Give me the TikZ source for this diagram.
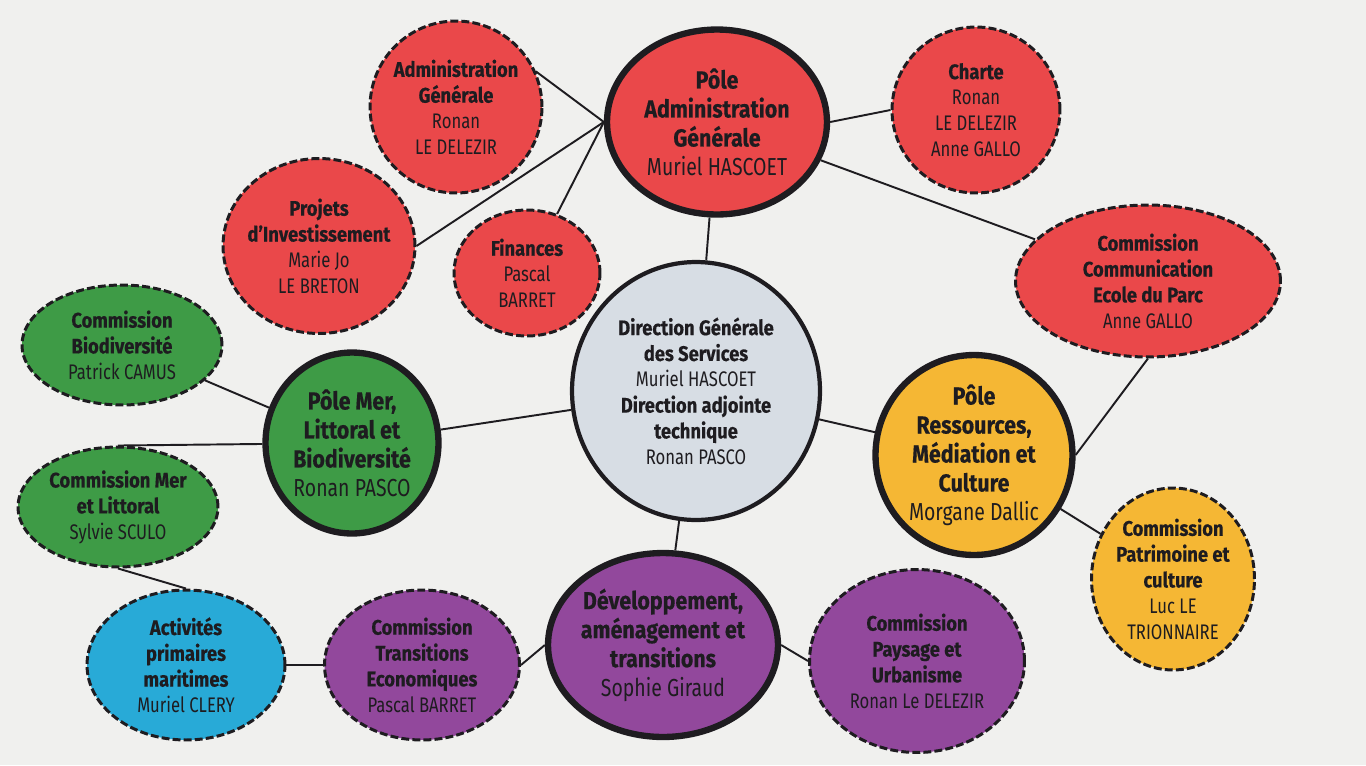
\documentclass[tikz,border=0pt]{standalone}
\usepackage{fontspec}
\setmainfont{Fira Sans}[FakeStretch=0.79, BoldFeatures={FakeStretch=0.87, FakeBold=0.4}]
\usepackage{tikz}
\usetikzlibrary{shapes.geometric}

\definecolor{fond}{RGB}{240,240,238}
\definecolor{rouge}{RGB}{234,72,74}
\definecolor{vert}{RGB}{62,155,70}
\definecolor{jaune}{RGB}{245,183,52}
\definecolor{violet}{RGB}{146,72,156}
\definecolor{bleu}{RGB}{40,170,215}
\definecolor{gris}{RGB}{215,221,228}
\definecolor{encre}{RGB}{30,28,32}

\begin{document}
\begin{tikzpicture}[x=0.02cm, y=-0.02cm,
  bulle/.style={ellipse, draw=encre, inner sep=-6pt, align=center, text=encre,
    font={\fontsize{12}{14.7}\selectfont}},
  souscom/.style={bulle, line width=1.7pt, dash pattern=on 4.5pt off 1.8pt},
  pole/.style={bulle, line width=3.6pt, font={\fontsize{14}{16.5}\selectfont}},
  centre/.style={bulle, line width=2.4pt},
  lien/.style={line width=1.1pt, encre}]

\fill[fond] (0,0) rectangle (1366,765);
\useasboundingbox (0,0) rectangle (1366,765);

% pole administration
\node[souscom, fill=rouge, minimum width=3.44cm, minimum height=3.44cm] (admin) at (456,107)
  {\textbf{Administration}\\\textbf{Générale}\\Ronan\\LE DELEZIR};
\node[pole, fill=rouge, minimum width=4.4cm, minimum height=3.7cm] (pag) at (717,122)
  {\textbf{Pôle}\\\textbf{Administration}\\\textbf{Générale}\\Muriel HASCOET};
\node[souscom, fill=rouge, minimum width=3.36cm, minimum height=3.32cm] (charte) at (976,110)
  {\textbf{Charte}\\Ronan\\LE DELEZIR\\Anne GALLO};
\node[souscom, fill=rouge, minimum width=3.84cm, minimum height=3.5cm] (proj) at (319,246)
  {\textbf{Projets}\\\textbf{d’Investissement}\\Marie Jo\\LE BRETON};
\node[souscom, fill=rouge, minimum width=2.92cm, minimum height=2.52cm] (fin) at (527,273)
  {\textbf{Finances}\\Pascal\\BARRET};
\node[souscom, fill=rouge, minimum width=5.3cm, minimum height=3.04cm] (comcom) at (1148,281)
  {\textbf{Commission}\\\textbf{Communication}\\\textbf{Ecole du Parc}\\Anne GALLO};

% direction
\node[centre, fill=gris, minimum width=4.96cm, minimum height=5.16cm] (dgs) at (696,391)
  {\textbf{Direction Générale}\\\textbf{des Services}\\Muriel HASCOET\\\textbf{Direction adjointe}\\\textbf{technique}\\Ronan PASCO};

% pole mer
\node[souscom, fill=vert, minimum width=4cm, minimum height=2.4cm] (biodiv) at (122,345)
  {\textbf{Commission}\\\textbf{Biodiversité}\\Patrick CAMUS};
\node[pole, fill=vert, minimum width=3.46cm, minimum height=3.62cm] (pmer) at (352,443)
  {\textbf{Pôle Mer,}\\\textbf{Littoral et}\\\textbf{Biodiversité}\\Ronan PASCO};
\node[souscom, fill=vert, minimum width=4cm, minimum height=2.4cm] (cmer) at (118,507)
  {\textbf{Commission Mer}\\\textbf{et Littoral}\\Sylvie SCULO};
\node[souscom, fill=bleu, minimum width=3.96cm, minimum height=3cm] (act) at (186,665)
  {\textbf{Activités}\\\textbf{primaires}\\\textbf{maritimes}\\Muriel CLERY};

% pole ressources
\node[pole, fill=jaune, minimum width=3.94cm, minimum height=4cm] (res) at (974,455)
  {\textbf{Pôle}\\\textbf{Ressources,}\\\textbf{Médiation et}\\\textbf{Culture}\\Morgane Dallic};
\node[souscom, fill=jaune, minimum width=3.26cm, minimum height=3.64cm] (patr) at (1173,579)
  {\textbf{Commission}\\\textbf{Patrimoine et}\\\textbf{culture}\\Luc LE\\TRIONNAIRE};

% pole developpement
\node[souscom, fill=violet, minimum width=3.9cm, minimum height=3cm] (cte) at (422,665)
  {\textbf{Commission}\\\textbf{Transitions}\\\textbf{Economiques}\\Pascal BARRET};
\node[pole, fill=violet, minimum width=4.6cm, minimum height=3.68cm] (dev) at (663,645)
  {\textbf{Développement,}\\\textbf{aménagement et}\\\textbf{transitions}\\Sophie Giraud};
\node[souscom, fill=violet, minimum width=4.3cm, minimum height=3.66cm] (pays) at (917,661)
  {\textbf{Commission}\\\textbf{Paysage et}\\\textbf{Urbanisme}\\Ronan Le DELEZIR};

% liens
\foreach \a/\b in {admin.24/pag.west, proj.east/pag.west, fin.63/pag.west, pag.east/charte.west,
  pag/comcom, pag/dgs, dgs/pmer, dgs/res, dgs/dev, pmer/biodiv, pmer/cmer.north,
  cmer.south/act.north, act/cte, cte.east/dev.west, dev.east/pays.west,
  res.east/comcom.south, res/patr}
{
\draw[lien] (\a) -- (\b);
}

\end{tikzpicture}
\end{document}
